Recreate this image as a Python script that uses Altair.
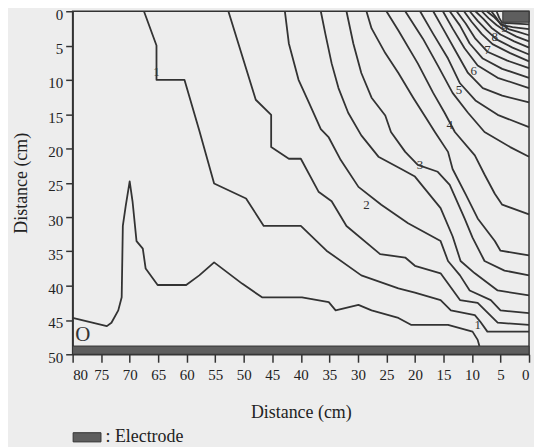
import altair as alt
import pandas as pd

# Contour lines: (distance in cm along x, depth in cm)
line_z = [(80, 44.7), (74.0, 45.9), (73.2, 45.4), (72.0, 43.6), (71.4, 41.7), (71.2, 31.3),
          (70.7, 28.4), (70.0, 24.8), (69.5, 27.7), (68.8, 33.5), (67.7, 34.6), (67.2, 37.5),
          (65.1, 39.9), (60.1, 39.9), (57.8, 38.5), (55.2, 36.6), (50.3, 39.7), (46.8, 41.7),
          (39.8, 41.7), (35.1, 42.4), (33.9, 43.6), (29.9, 42.8), (27.6, 43.6), (22.9, 44.7),
          (20.7, 45.7), (14.2, 45.7), (9.9, 46.7), (9.0, 47.9), (8.7, 48.8)]
line_a = [(67.5, 0), (65.3, 5.0), (65.3, 10.0), (60.4, 10.0), (57.8, 17.4), (55.2, 25.1),
          (49.6, 27.3), (46.5, 31.3), (40.0, 31.3), (35.5, 34.9), (29.4, 38.5), (22.9, 40.4),
          (20.0, 41.0), (15.5, 42.1), (13.7, 43.6), (9.5, 44.3), (8.5, 45.3), (7.3, 46.7), (0, 46.7)]
line_b = [(52.7, 0), (47.9, 12.9), (45.2, 15.1), (45.2, 19.8), (42.1, 21.5), (40.0, 21.5),
          (36.9, 26.3), (34.6, 27.7), (32.0, 31.3), (26.1, 35.4), (21.7, 35.9), (20.0, 37.1),
          (15.5, 38.2), (12.1, 42.1), (9.0, 42.5), (5.5, 45.4), (0, 45.7)]
line_c = [(42.8, 0), (42.1, 4.7), (40.4, 10.0), (38.6, 13.3), (36.5, 17.2), (35.1, 18.4),
          (33.0, 21.7), (29.9, 25.6), (25.9, 28.2), (21.2, 30.9), (15.5, 33.5), (14.2, 36.4),
          (12.1, 38.5), (10.4, 40.7), (6.7, 42.1), (5.0, 43.6), (0, 44.0)]
line_d = [(36.5, 0), (35.7, 3.3), (34.6, 7.6), (33.4, 11.2), (31.7, 14.8), (29.4, 18.1),
          (26.4, 21.2), (22.4, 23.0), (20.0, 24.1), (15.5, 28.7), (13.4, 32.8), (12.0, 36.4),
          (9.5, 38.2), (5.5, 40.7), (0, 41.4)]
line_e = [(32.0, 0), (30.8, 4.7), (29.4, 9.0), (27.6, 12.6), (25.2, 15.2), (24.2, 17.6),
          (21.7, 20.5), (19.5, 22.4), (16.0, 23.4), (13.9, 25.3), (11.3, 30.2), (9.9, 33.0),
          (7.8, 36.4), (4.3, 37.8), (0, 38.5)]
line_f = [(28.5, 0), (27.6, 2.5), (25.2, 6.1), (22.9, 9.0), (20.3, 12.6), (18.1, 15.5),
          (16.5, 17.6), (14.2, 20.5), (13.4, 23.0), (11.1, 26.7), (9.0, 30.2), (6.0, 33.5),
          (5.0, 34.9), (0, 35.6)]
line_g = [(25.0, 0), (22.9, 2.8), (19.5, 7.6), (16.8, 11.9), (14.8, 14.8), (13.0, 17.6),
          (9.5, 21.0), (7.8, 23.8), (6.0, 26.6), (4.7, 28.2), (0, 29.6)]
line_h = [(21.7, 0), (18.6, 4.0), (16.0, 7.9), (13.4, 11.9), (10.7, 14.8), (7.8, 17.6),
          (3.3, 19.8), (0, 21.2)]
line_i = [(19.1, 0), (16.8, 3.3), (14.2, 6.9), (12.1, 10.5), (9.4, 13.0), (5.5, 15.1), (0, 16.9)]
line_j = [(16.8, 0), (15.1, 2.5), (12.8, 5.9), (10.7, 9.0), (8.1, 11.2), (4.7, 12.3), (0, 13.3)]
line_k = [(15.1, 0), (13.4, 2.5), (11.3, 5.4), (9.0, 7.9), (5.5, 9.7), (0, 11.2)]
line_l = [(13.9, 0), (12.1, 2.1), (10.4, 4.7), (8.1, 6.9), (4.7, 8.4), (0, 9.7)]
line_m = [(12.7, 0), (11.1, 1.8), (9.4, 4.0), (7.3, 5.9), (3.8, 7.2), (0, 8.3)]
line_n = [(11.4, 0), (10.1, 1.5), (8.3, 3.3), (6.4, 4.8), (3.3, 6.1), (0, 7.3)]
line_o = [(10.4, 0), (9.0, 1.4), (7.4, 2.8), (5.7, 4.1), (2.9, 5.3), (0, 6.3)]
line_p = [(9.4, 0), (8.0, 1.1), (6.6, 2.4), (5.0, 3.4), (2.6, 4.4), (0, 5.3)]
line_q = [(8.3, 0), (7.1, 1.0), (5.7, 2.0), (4.3, 2.8), (2.2, 3.7), (0, 4.4)]
line_r = [(7.4, 0), (6.2, 0.8), (5.0, 1.8), (3.6, 2.6), (1.9, 3.0), (0, 3.5)]
line_s = [(6.6, 0), (5.7, 1.0), (4.9, 2.0), (2.9, 2.3), (0, 2.6)]
line_t = [(5.7, 0), (5.2, 1.0), (4.7, 1.7), (0, 1.9)]

lines = {"z": line_z, "a": line_a, "b": line_b, "c": line_c, "d": line_d, "e": line_e,
         "f": line_f, "g": line_g, "h": line_h, "i": line_i, "j": line_j, "k": line_k,
         "l": line_l, "m": line_m, "n": line_n, "o": line_o, "p": line_p, "q": line_q,
         "r": line_r, "s": line_s, "t": line_t}

# Contour labels
label_text = ["1", "1", "2", "3", "4", "5", "6", "7", "8", "9"]
label_x = [65.3, 9.0, 28.5, 19.1, 13.9, 12.3, 9.7, 7.3, 6.0, 4.3]
label_y = [8.8, 45.7, 28.2, 22.4, 16.6, 11.5, 8.7, 5.7, 3.7, 2.4]

# Electrodes
electrode_x = [80, 4.6]
electrode_x2 = [0, 0]
electrode_y = [48.8, 0]
electrode_y2 = [50, 1.6]

x_ticks = list(range(0, 85, 5))
y_ticks = list(range(0, 55, 5))

rows = []
for name, pts in lines.items():
    for i, (xv, yv) in enumerate(pts):
        rows.append({"line": name, "i": i, "x": xv, "y": yv})
df_lines = pd.DataFrame(rows)
df_labels = pd.DataFrame({"label": label_text, "x": label_x, "y": label_y})
df_elec = pd.DataFrame({"kind": ["Electrode"] * 2, "x": electrode_x, "x2": electrode_x2,
                        "y": electrode_y, "y2": electrode_y2})
df_origin = pd.DataFrame({"label": ["O"], "x": [78.2], "y": [47.2]})

FONT = "Liberation Serif"
xs = alt.Scale(domain=[0, 80], reverse=True, nice=False, zero=False)
ys = alt.Scale(domain=[0, 50], reverse=True, nice=False, zero=False)
x_axis = alt.Axis(values=x_ticks, title="Distance (cm)", tickSize=8, labelPadding=5,
                  titlePadding=22, grid=False)
y_axis = alt.Axis(values=y_ticks, title="Distance (cm)", tickSize=7, labelPadding=3,
                  labelOffset=3, titlePadding=17, grid=False)

X = alt.X("x:Q", scale=xs, axis=x_axis)
Y = alt.Y("y:Q", scale=ys, axis=y_axis)

contours = alt.Chart(df_lines).mark_line(color="#333333", strokeWidth=1.8, strokeJoin="round").encode(
    x=X, y=Y, detail="line:N", order="i:Q")

electrodes = alt.Chart(df_elec).mark_rect(stroke="#333333", strokeWidth=1).encode(
    x=X, x2="x2:Q", y=Y, y2="y2:Q",
    color=alt.Color("kind:N", scale=alt.Scale(domain=["Electrode"], range=["#5e5e5e"]),
                    legend=alt.Legend(orient="none", legendX=0, legendY=414, title=None,
                                      padding=0,
                                      symbolType="M-1,-0.33L1,-0.33L1,0.33L-1,0.33Z",
                                      symbolSize=784, symbolStrokeColor="#333333",
                                      symbolStrokeWidth=1, symbolOpacity=1,
                                      labelFont=FONT, labelFontSize=18, labelColor="#222222",
                                      labelOffset=4, labelExpr="': Electrode'")))

labels = alt.Chart(df_labels).mark_text(font=FONT, fontSize=13, color="#333333").encode(
    x=X, y=Y, text="label:N")

origin = alt.Chart(df_origin).mark_text(font=FONT, fontSize=21, color="#333333").encode(
    x=X, y=Y, text="label:N")

chart = alt.layer(contours, electrodes, labels, origin).properties(
    width=459, height=345,
    padding={"left": 65, "top": 2, "right": 5, "bottom": 92},
    autosize=alt.AutoSizeParams(type="none"),
    background="#ededed",
).configure_axis(
    labelFont=FONT, labelFontSize=15, labelColor="#222222",
    titleFont=FONT, titleFontSize=18, titleFontWeight="normal", titleColor="#222222",
    domainColor="#333333", domainWidth=1.5, tickColor="#333333", tickWidth=1.5,
).configure_view(stroke="#333333", strokeWidth=1.5)

chart.save("out.html", embed_options={"renderer": "svg", "actions": False})
